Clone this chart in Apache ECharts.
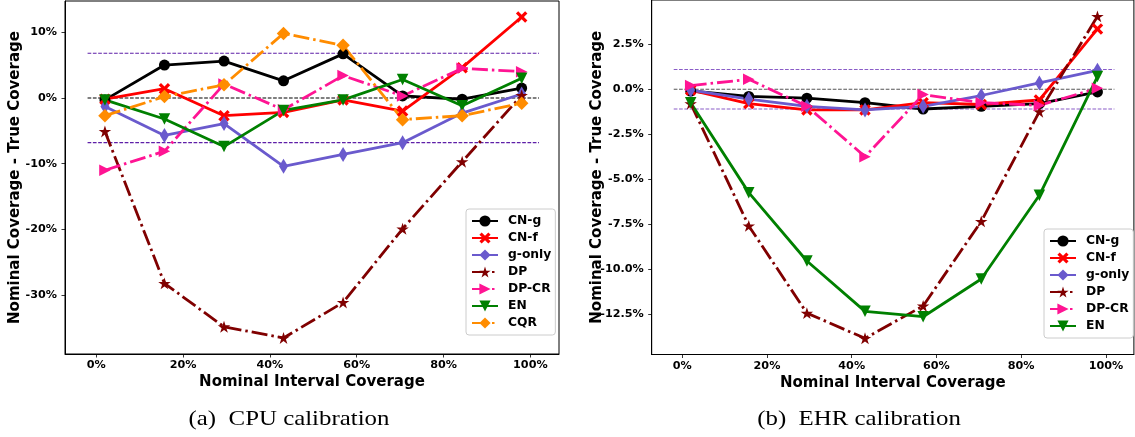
<!DOCTYPE html>
<html>
<head>
<meta charset="utf-8">
<script src="https://cdn.jsdelivr.net/npm/echarts@6/dist/echarts.min.js"></script>
<style>
  html, body { margin: 0; padding: 0; background: #fff; }
  #chart { width: 1135px; height: 437px; }
</style>
</head>
<body>
<div id="chart"></div>
<script>
// Nominal interval coverage levels (%), shared by both panels
const coverage = [2, 15.71, 29.43, 43.14, 56.86, 70.57, 84.29, 98];

// (a) CPU calibration: nominal minus true coverage (%)
const cpuCNg   = [-0.3, 5.0, 5.6, 2.6, 6.7, 0.3, -0.2, 1.5];
const cpuCNf   = [-0.2, 1.4, -2.7, -2.2, -0.3, -2.0, 4.6, 12.3];
const cpuGonly = [-1.3, -5.7, -3.9, -10.4, -8.6, -6.8, -2.3, 0.6];
const cpuDP    = [-5.1, -28.2, -34.8, -36.5, -31.1, -19.9, -9.7, 0.4];
const cpuDPCR  = [-11.0, -8.1, 2.1, -1.8, 3.4, 0.3, 4.5, 4.0];
const cpuEN    = [-0.3, -3.2, -7.4, -1.9, -0.3, 2.8, -1.2, 3.0];
const cpuCQR   = [-2.7, 0.2, 2.0, 9.8, 8.0, -3.3, -2.7, -0.8];

// (b) EHR calibration: nominal minus true coverage (%)
const ehrCNg   = [-0.1, -0.4, -0.5, -0.75, -1.1, -0.95, -0.8, -0.15];
const ehrCNf   = [-0.05, -0.8, -1.15, -1.15, -0.75, -0.85, -0.6, 3.35];
const ehrGonly = [-0.05, -0.55, -0.95, -1.15, -0.95, -0.35, 0.35, 1.05];
const ehrDP    = [-0.8, -7.6, -12.45, -13.85, -12.05, -7.35, -1.25, 4.05];
const ehrDPCR  = [0.2, 0.55, -0.95, -3.75, -0.3, -0.75, -0.9, 0.05];
const ehrEN    = [-0.75, -5.75, -9.55, -12.35, -12.65, -10.55, -5.9, 0.7];

// Reference bands (± tolerance, %) and their horizontal extent
const cpuBand = 6.8;
const ehrBand = 1.1;
const bandSpan = [-2, 102];

// Tick labels
const xTicks = [0, 20, 40, 60, 80, 100];
const cpuYTicks = [-30, -20, -10, 0, 10];
const ehrYTicks = [-12.5, -10, -7.5, -5, -2.5, 0, 2.5];

const cpuLegend = ['CN-g', 'CN-f', 'g-only', 'DP', 'DP-CR', 'EN', 'CQR'];
const ehrLegend = ['CN-g', 'CN-f', 'g-only', 'DP', 'DP-CR', 'EN'];

// Marker shapes
const STAR = 'path://M50,0 L61.2,34.55 L97.55,34.55 L68.15,55.9 L79.4,90.45 L50,69.1 L20.6,90.45 L31.85,55.9 L2.45,34.55 L38.8,34.55 Z';
const XMARK = 'path://M2,0 L5,3 L8,0 L10,2 L7,5 L10,8 L8,10 L5,7 L2,10 L0,8 L3,5 L0,2 Z';
const THIN_DIAMOND = 'path://M3,0 L6,5 L3,10 L0,5 Z';
const TRI_RIGHT = 'path://M0,0 L10,5 L0,10 Z';
const TRI_DOWN = 'path://M0,0 L10,0 L5,10 Z';

const DASHDOT = [16, 4, 2.5, 4];
const FONT = 'DejaVu Sans';

const styles = {
  'CN-g':   { color: '#000000', symbol: 'circle', size: 11, dash: 'solid' },
  'CN-f':   { color: '#ff0000', symbol: XMARK, size: 11.5, dash: 'solid' },
  'g-only': { color: '#6a5acd', symbol: THIN_DIAMOND, size: 15, dash: 'solid', keep: true },
  'DP':     { color: '#800000', symbol: STAR, size: 12.5, dash: DASHDOT, keep: true },
  'DP-CR':  { color: '#ff1493', symbol: TRI_RIGHT, size: 11.5, dash: DASHDOT },
  'EN':     { color: '#008000', symbol: TRI_DOWN, size: 11.5, dash: 'solid' },
  'CQR':    { color: '#ff8c00', symbol: 'diamond', size: 13.5, dash: DASHDOT }
};

function pairs(ys) {
  return coverage.map((x, i) => [x, ys[i]]);
}

function curve(name, ys, gi) {
  const s = styles[name];
  return {
    type: 'line',
    name: name,
    xAxisIndex: gi,
    yAxisIndex: gi,
    data: pairs(ys),
    symbol: s.symbol,
    symbolSize: s.size,
    symbolKeepAspect: !!s.keep,
    showSymbol: true,
    z: 3,
    itemStyle: { color: s.color, opacity: 1 },
    lineStyle: { color: s.color, width: 2.8, type: s.dash },
    emphasis: { disabled: true },
    animation: false
  };
}

function hline(y, gi, color) {
  return {
    type: 'line',
    xAxisIndex: gi,
    yAxisIndex: gi,
    data: [[bandSpan[0], y], [bandSpan[1], y]],
    symbol: 'none',
    silent: true,
    z: 1,
    lineStyle: { color: color, width: 1.1, type: [3.7, 1.6] },
    animation: false
  };
}

function xAxisFor(gi) {
  return {
    type: 'value',
    gridIndex: gi,
    min: -7.2,
    max: 106.6,
    splitLine: { show: false },
    axisLine: { show: true, onZero: false, lineStyle: { color: '#000', width: 1 } },
    axisTick: { show: true, length: 3.5, lineStyle: { color: '#000', width: 0.8 }, customValues: xTicks },
    axisLabel: {
      customValues: xTicks,
      formatter: v => v + '%',
      color: '#000', fontFamily: FONT, fontWeight: 'bold', fontSize: 11.2, margin: 6
    },
    name: 'Nominal Interval Coverage',
    nameLocation: 'middle',
    nameGap: 21,
    nameMoveOverlap: false,
    nameTextStyle: { color: '#000', fontFamily: FONT, fontWeight: 'bold', fontSize: 15 }
  };
}

function yAxisFor(gi, min, max, ticks, fmt, gap) {
  return {
    type: 'value',
    gridIndex: gi,
    min: min,
    max: max,
    splitLine: { show: false },
    axisLine: { show: true, onZero: false, lineStyle: { color: '#000', width: 1 } },
    axisTick: { show: true, length: 3.5, lineStyle: { color: '#000', width: 0.8 }, customValues: ticks },
    axisLabel: {
      customValues: ticks,
      formatter: fmt,
      color: '#000', fontFamily: FONT, fontWeight: 'bold', fontSize: 11.2, margin: 8
    },
    name: 'Nominal Coverage - True Coverage',
    nameLocation: 'middle',
    nameRotate: 90,
    nameGap: gap,
    nameMoveOverlap: false,
    nameTextStyle: { color: '#000', fontFamily: FONT, fontWeight: 'bold', fontSize: 15 }
  };
}

function legendFor(names, left, top) {
  return {
    data: names,
    orient: 'vertical',
    left: left,
    top: top,
    itemWidth: 26,
    itemHeight: 14,
    itemGap: 5,
    padding: [6, 4, 6, 5],
    backgroundColor: '#ffffff',
    borderColor: '#cccccc',
    borderWidth: 1,
    borderRadius: 3,
    selectedMode: false,
    textStyle: { color: '#000', fontFamily: FONT, fontWeight: 'bold', fontSize: 12.3, padding: [0, 0, 0, 5] }
  };
}

const chart = echarts.init(document.getElementById('chart'), null, { renderer: 'canvas' });

chart.setOption({
  animation: false,
  backgroundColor: '#ffffff',
  grid: [
    { left: 65, top: 1, width: 494, height: 353, show: true, borderColor: '#000', borderWidth: 1, backgroundColor: 'transparent' },
    { left: 651.7, top: 0, width: 482.2, height: 354.5, show: true, borderColor: '#000', borderWidth: 1, backgroundColor: 'transparent' }
  ],
  xAxis: [xAxisFor(0), xAxisFor(1)],
  yAxis: [
    yAxisFor(0, -38.94, 14.74, cpuYTicks, v => Math.round(v) + '%', 42),
    yAxisFor(1, -14.75, 4.96, ehrYTicks, v => v.toFixed(1) + '%', 47)
  ],
  legend: [legendFor(cpuLegend, 466, 209), legendFor(ehrLegend, 1044, 229)],
  graphic: [
    {
      type: 'text', x: 289, y: 419, scaleX: 1.13, silent: true,
      style: { text: '(a)  CPU calibration', font: '22px "Liberation Serif"', fill: '#000', textAlign: 'center', textVerticalAlign: 'middle' }
    },
    {
      type: 'text', x: 859, y: 419, scaleX: 1.13, silent: true,
      style: { text: '(b)  EHR calibration', font: '22px "Liberation Serif"', fill: '#000', textAlign: 'center', textVerticalAlign: 'middle' }
    }
  ],
  series: [
    hline(cpuBand, 0, '#5e1fa8'),
    hline(-cpuBand, 0, '#5e1fa8'),
    hline(0, 0, '#000000'),
    curve('CN-g', cpuCNg, 0),
    curve('CN-f', cpuCNf, 0),
    curve('g-only', cpuGonly, 0),
    curve('DP', cpuDP, 0),
    curve('DP-CR', cpuDPCR, 0),
    curve('EN', cpuEN, 0),
    curve('CQR', cpuCQR, 0),

    hline(ehrBand, 1, '#8a5cc8'),
    hline(-ehrBand, 1, '#8a5cc8'),
    hline(0, 1, '#555555'),
    curve('CN-g', ehrCNg, 1),
    curve('CN-f', ehrCNf, 1),
    curve('g-only', ehrGonly, 1),
    curve('DP', ehrDP, 1),
    curve('DP-CR', ehrDPCR, 1),
    curve('EN', ehrEN, 1)
  ]
});
</script>
</body>
</html>
